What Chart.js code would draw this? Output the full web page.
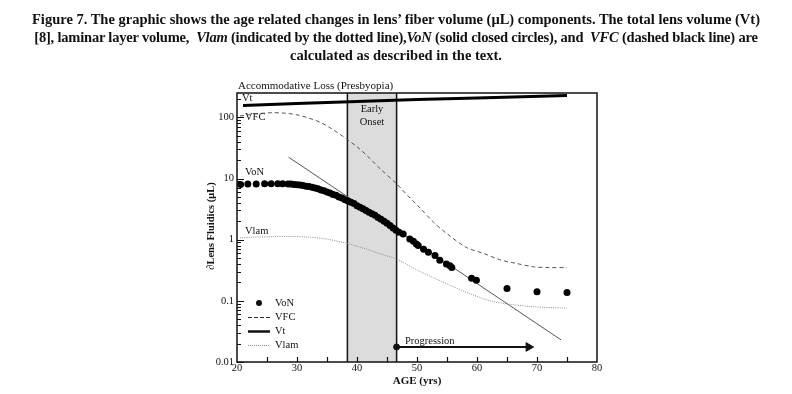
<!DOCTYPE html>
<html><head><meta charset="utf-8">
<script src="https://cdn.jsdelivr.net/npm/chart.js@4/dist/chart.umd.min.js"></script>
<style>
html,body{margin:0;padding:0;background:#fff;}
#wrap{position:relative;width:792px;height:394px;}
#title{position:absolute;left:0;top:10px;width:792px;text-align:center;font:bold 14.5px 'Liberation Serif',serif;line-height:18px;color:#111;white-space:nowrap;}
#title .l2{letter-spacing:-0.2px;}
canvas{position:absolute;left:0;top:0;}
</style></head><body>
<div id="wrap"><canvas id="c" width="792" height="394"></canvas>
<div id="title">Figure 7. The graphic shows the age related changes in lens’ fiber volume (μL) components. The total lens volume (Vt)<br><span class="l2">[8], laminar layer volume, &nbsp;<i>Vlam</i> (indicated by the dotted line),<i>VoN</i> (solid closed circles), and &nbsp;<i>VFC</i> (dashed black line) are</span><br>calculated as described in the text.</div></div>
<script>
// ---- data ----
const xTickLabels = [20, 30, 40, 50, 60, 70, 80];
const yTickValues = [0.01, 0.1, 1, 10, 100];
const yTickLabels = ['0.01', '0.1', '1', '10', '100'];

const vonAge = [20.6,21.8,23.2,24.6,25.7,26.8,27.6,28.5,
  29,29.5,30,30.5,31,31.5,32,32.5,33,33.5,34,34.5,35,35.5,36,36.5,37,37.5,38,38.5,39,39.5,40,40.5,41,41.5,42,42.5,43,43.5,44,44.5,45,45.5,46,46.5,47,
  47.7,48.8,49.4,49.9,50.2,51.1,51.9,53.0,53.8,54.9,55.5,55.8,59.1,59.9,65,70,75];
const vonVal = [8.0,8.1,8.1,8.2,8.2,8.2,8.2,8.1,
  8.1,8.0,7.9,7.8,7.7,7.5,7.4,7.2,7.0,6.8,6.5,6.3,6.0,5.8,5.5,5.3,5.0,4.8,4.5,4.3,4.1,3.9,3.6,3.4,3.2,3.0,2.8,2.65,2.5,2.3,2.15,2.0,1.85,1.7,1.55,1.42,1.32,
  1.24,1.03,0.94,0.85,0.80,0.70,0.62,0.55,0.46,0.40,0.375,0.35,0.235,0.218,0.159,0.141,0.137];

const vfcAge = [20.5,22,24,26,28,30,32,34,36,38.3,40,41.6,44,46.6,48.5,50.5,52.7,55,58.3,61,63.8,66.5,69.4,72,75];
const vfcVal = [105,110,116,119,117,110,97,82,63,44,33,24,14,8.2,5.2,3.3,1.95,1.25,0.74,0.60,0.47,0.41,0.36,0.35,0.35];

const vtAge = [21,30,40,50,60,75];
const vtVal = [156,168,182,195,208,228];

const vlamAge = [20.5,23,26,28.8,32,35,38.3,41,44,46.6,50,52.7,55.5,58.3,62.2,65.5,69.4,75];
const vlamVal = [1.07,1.10,1.12,1.13,1.10,1.02,0.87,0.73,0.58,0.48,0.32,0.24,0.18,0.137,0.10,0.088,0.080,0.076];

const fitAge = [28.6, 74];
const fitVal = [22.3, 0.023];

const earlyOnset = [38.4, 46.6];
const progAge = [46.6, 68.6];
const progVal = [0.0176, 0.0176];

const pts = (xs, ys) => xs.map((v, i) => ({x: v, y: ys[i]}));
const SERIF = "'Liberation Serif', 'Times New Roman', serif";

const overlay = {
  id: 'overlay',
  beforeDatasetsDraw(chart) {
    const {ctx, chartArea: a, scales: {x}} = chart;
    const x0 = x.getPixelForValue(earlyOnset[0]), x1 = x.getPixelForValue(earlyOnset[1]);
    ctx.save();
    ctx.fillStyle = '#dcdcdc';
    ctx.fillRect(x0, a.top, x1 - x0, a.bottom - a.top);
    ctx.strokeStyle = '#111'; ctx.lineWidth = 1.5;
    ctx.beginPath();
    ctx.moveTo(x0, a.top); ctx.lineTo(x0, a.bottom);
    ctx.moveTo(x1, a.top); ctx.lineTo(x1, a.bottom);
    ctx.stroke();
    ctx.restore();
  },
  afterDraw(chart) {
    const {ctx, chartArea: a, scales: {x, y}} = chart;
    ctx.save();
    ctx.strokeStyle = '#111'; ctx.lineWidth = 1.5;
    ctx.strokeRect(a.left, a.top, a.right - a.left, a.bottom - a.top);
    ctx.lineWidth = 1.2;
    ctx.beginPath();
    for (let d = 0.01; d <= 100.0001; d *= 10) {
      for (let m = 1; m <= 9; m++) {
        const v = m * d;
        if (v > y.max) break;
        const py = Math.round(y.getPixelForValue(v)) + 0.5;
        const len = m === 1 ? 7 : 4;
        ctx.moveTo(a.left, py); ctx.lineTo(a.left + len, py);
      }
    }
    for (let v = 25; v < 80; v += 5) {
      const px = Math.round(x.getPixelForValue(v)) + 0.5;
      ctx.moveTo(px, a.bottom); ctx.lineTo(px, a.bottom - 5);
    }
    ctx.stroke();

    ctx.fillStyle = '#111';
    ctx.textBaseline = 'middle';
    ctx.font = '10.5px ' + SERIF;
    ctx.textAlign = 'left';
    ctx.fillText('Vt', a.left + 5, a.top + 5);
    ctx.fillText('VFC', a.left + 8, y.getPixelForValue(100));
    ctx.fillText('VoN', a.left + 8, y.getPixelForValue(12.5));
    ctx.fillText('Vlam', a.left + 8, y.getPixelForValue(1.35));
    ctx.font = '11px ' + SERIF;
    ctx.fillText('Accommodative Loss (Presbyopia)', a.left + 1, a.top - 7);
    ctx.font = '10.5px ' + SERIF;
    ctx.textAlign = 'center';
    const bc = (x.getPixelForValue(earlyOnset[0]) + x.getPixelForValue(earlyOnset[1])) / 2;
    ctx.fillText('Early', bc, a.top + 16);
    ctx.fillText('Onset', bc, a.top + 29);
    ctx.textAlign = 'left';
    ctx.fillText('Progression', x.getPixelForValue(48), y.getPixelForValue(0.022));

    const lx0 = a.left + 11, lx1 = a.left + 33, tx = a.left + 38;
    const rows = [303, 317.5, 331.5, 345.5];
    ctx.font = '10.5px ' + SERIF;
    ctx.beginPath(); ctx.arc(a.left + 22, rows[0], 3, 0, Math.PI * 2); ctx.fill();
    ctx.fillText('VoN', tx, rows[0]);
    ctx.strokeStyle = '#333'; ctx.lineWidth = 1; ctx.setLineDash([4, 2]);
    ctx.beginPath(); ctx.moveTo(lx0, rows[1]); ctx.lineTo(lx1, rows[1]); ctx.stroke();
    ctx.fillText('VFC', tx, rows[1]);
    ctx.setLineDash([]); ctx.strokeStyle = '#111'; ctx.lineWidth = 2.5;
    ctx.beginPath(); ctx.moveTo(lx0, rows[2]); ctx.lineTo(lx1, rows[2]); ctx.stroke();
    ctx.fillText('Vt', tx, rows[2]);
    ctx.strokeStyle = '#a88484'; ctx.lineWidth = 1; ctx.setLineDash([1, 1]);
    ctx.beginPath(); ctx.moveTo(lx0, rows[3]); ctx.lineTo(lx1, rows[3]); ctx.stroke();
    ctx.setLineDash([]);
    ctx.fillText('Vlam', tx, rows[3]);

    ctx.font = 'bold 11px ' + SERIF;
    ctx.textAlign = 'center';
    ctx.fillText('AGE (yrs)', 417, 381);
    ctx.translate(211, 226);
    ctx.rotate(-Math.PI / 2);
    ctx.font = 'bold 10.5px ' + SERIF;
    ctx.fillText('∂Lens Fluidics (μL)', 0, 0);
    ctx.restore();
  }
};

new Chart(document.getElementById('c'), {
  type: 'scatter',
  data: {
    datasets: [
      {label: 'VoN', data: pts(vonAge, vonVal), pointRadius: 3.5, pointBackgroundColor: '#000', pointBorderWidth: 0, showLine: false},
      {label: 'Progression', data: pts(progAge, progVal), showLine: true, borderColor: '#111', borderWidth: 2,
        pointStyle: ['circle', 'triangle'], pointRadius: [3, 5], rotation: [0, 90], pointBackgroundColor: '#111', pointBorderColor: '#111', pointBorderWidth: 1},
      {label: 'Vt', data: pts(vtAge, vtVal), showLine: true, borderColor: '#000', borderWidth: 3, pointRadius: 0},
      {label: 'VFC', data: pts(vfcAge, vfcVal), showLine: true, borderColor: '#555', borderWidth: 1, borderDash: [4, 3], pointRadius: 0, tension: 0.3},
      {label: 'Vlam', data: pts(vlamAge, vlamVal), showLine: true, borderColor: '#a88484', borderWidth: 1, borderDash: [1, 1.2], pointRadius: 0, tension: 0.3},
      {label: 'fit', data: pts(fitAge, fitVal), showLine: true, borderColor: '#555', borderWidth: 1, pointRadius: 0}
    ]
  },
  options: {
    responsive: false,
    animation: false,
    events: [],
    layout: {padding: {top: 93, right: 195, left: 0, bottom: 0}},
    plugins: {legend: {display: false}, title: {display: false}, tooltip: {enabled: false}},
    scales: {
      x: {
        type: 'linear', min: 20, max: 80,
        grid: {display: false, drawTicks: false},
        border: {display: false},
        afterBuildTicks: s => { s.ticks = xTickLabels.map(v => ({value: v})); },
        afterFit: s => { s.height = 32; },
        ticks: {padding: 0, color: '#111', font: {family: SERIF, size: 10.5}, maxRotation: 0, autoSkip: false, callback: v => String(v)}
      },
      y: {
        type: 'logarithmic', min: 0.01, max: 250,
        grid: {display: false, drawTicks: false},
        border: {display: false},
        afterBuildTicks: s => { s.ticks = yTickValues.map(v => ({value: v})); },
        afterFit: s => { s.width = 237; },
        ticks: {padding: 3, color: '#111', font: {family: SERIF, size: 10.5}, autoSkip: false,
          callback: v => { const i = yTickValues.findIndex(t => Math.abs(t - v) / t < 1e-6); return i >= 0 ? yTickLabels[i] : ''; }}
      }
    }
  },
  plugins: [overlay]
});
</script>
</body></html>
